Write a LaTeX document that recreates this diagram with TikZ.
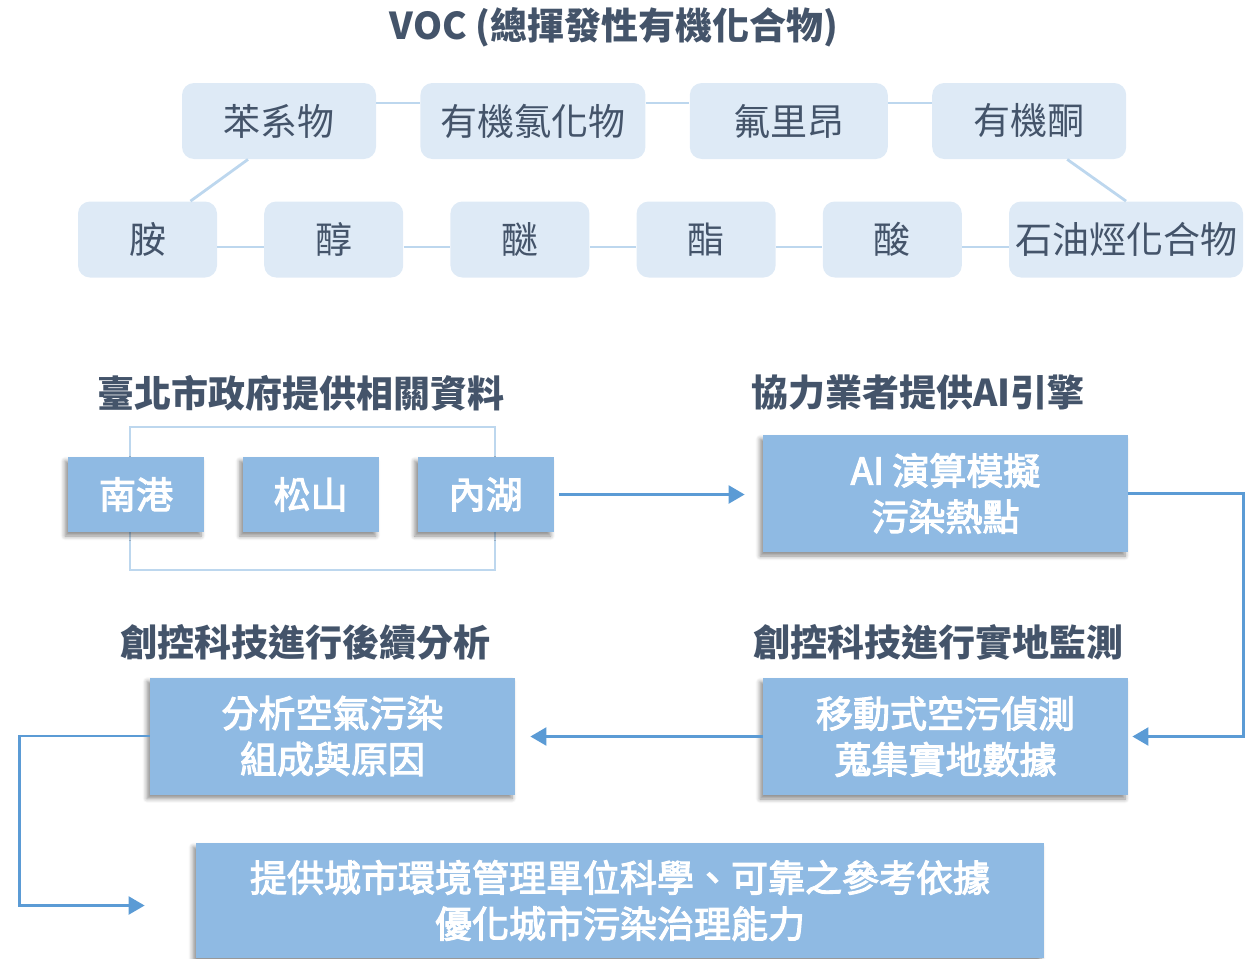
\documentclass[tikz,border=0pt]{standalone}
\usepackage{fontspec}
\setmainfont{Noto Sans CJK TC}
\newfontfamily\boxfont[FakeBold=3]{Noto Sans CJK TC}
\usepackage{tikz}
\usetikzlibrary{arrows.meta, positioning, shadows.blur}
\definecolor{slate}{HTML}{44546A}
\definecolor{paleblue}{HTML}{DEEAF6}
\definecolor{linkblue}{HTML}{BDD7EE}
\definecolor{boxblue}{HTML}{8FBAE3}
\definecolor{arrowblue}{HTML}{5B9BD5}
\tikzset{
    vocbox/.style={fill=paleblue, rounded corners=6pt, text=slate, font=\fontsize{18.5}{23}\selectfont, minimum height=38pt, minimum width=97pt, inner xsep=10pt},
    vocsmall/.style={vocbox, minimum width=69.5pt, inner xsep=3pt},
    link/.style={draw=linkblue, line width=1.4pt},
    heading/.style={text=slate, font=\bfseries\fontsize{18.5}{23}\selectfont},
    stepbox/.style={fill=boxblue, text=white, align=center, font=\boxfont\fontsize{18.5}{23}\selectfont, blur shadow={shadow xshift=-1.5pt, shadow yshift=-2pt, shadow blur steps=6, shadow opacity=45}},
    sitebox/.style={stepbox, minimum width=68pt, minimum height=37.5pt},
    arr/.style={-{Triangle[length=8pt, width=9pt]}, draw=arrowblue, line width=1.2pt}
}

\begin{document}
\begin{tikzpicture}[
          x=0.5pt, y=-0.5pt,
          node distance=21.8pt,
          wide/.style={stepbox, minimum width=182.5pt, minimum height=58.5pt}
        ]
        \useasboundingbox (0,0) rectangle (1256,958);
        \node[heading] (title) at (614,27) {VOC (總揮發性有機化合物)};

        \node[vocbox] (benzene) at (279,121) {苯系物};
        \node[vocbox, right=of benzene] (chloride) {有機氯化物};
        \node[vocbox, right=of chloride, minimum width=99pt] (freon) {氟里昂};
        \node[vocbox, right=of freon] (ketone) {有機酮};

        \node[vocsmall] (amine) at (147.5,239.5) {胺};
        \node[vocsmall, right=23.2pt of amine] (alcohol) {醇};
        \node[vocsmall, right=23.2pt of alcohol] (ether) {醚};
        \node[vocsmall, right=23.2pt of ether] (ester) {酯};
        \node[vocsmall, right=23.2pt of ester] (acid) {酸};
        \node[vocsmall, right=23.2pt of acid] (petro) {石油烴化合物};

        \foreach \a/\b in {benzene/chloride, chloride/freon, freon/ketone}
            \draw[link] ([yshift=9pt]\a.east) -- ([yshift=9pt]\b.west);
        \foreach \a/\b in {amine/alcohol, alcohol/ether, ether/ester, ester/acid, acid/petro}
            \draw[link] ([yshift=-3.75pt]\a.east) -- ([yshift=-3.75pt]\b.west);
        \draw[link] ([xshift=-15.5pt]benzene.south) -- ([xshift=21.5pt]amine.north);
        \draw[link] ([xshift=19pt]ketone.south) -- (petro.north);

        \node[heading] (cityhead) at (301,393) {臺北市政府提供相關資料};
        \node[draw=linkblue, line width=1.3pt, minimum width=182.5pt, minimum height=71.5pt] (siteframe) at (312.5,498.5) {};
        \node[sitebox] (nangang) at (136,494.5) {南港};
        \node[sitebox, right=19pt of nangang] (songshan) {松山};
        \node[sitebox, right=19pt of songshan] (neihu) {內湖};

        \node[heading] (vendorhead) at (918,393) {協力業者提供AI引擎};
        \node[wide] (aimodel) at (945.5,493.5) {AI 演算模擬\\污染熱點};
        \draw[arr, shorten <=2.5pt, shorten >=9pt] (neihu.east) -- (neihu.east -| aimodel.west);

        \node[heading] (monitorhead) at (938,642) {創控科技進行實地監測};
        \node[wide] (monitor) at (945.5,736.5) {移動式空污偵測\\蒐集實地數據};
        \draw[arr, shorten >=2pt] (aimodel.east) -- ++(115,0) |- (monitor.east);

        \node[heading] (analysishead) at (305,642) {創控科技進行後續分析};
        \node[wide] (analysis) at (332.5,736) {分析空氣污染\\組成與原因};
        \draw[arr, shorten >=7.5pt] (monitor.west) -- (monitor.west -| analysis.east);

        \node[stepbox, minimum width=424pt, minimum height=57.5pt] (advice) at (620,900.5) {提供城市環境管理單位科學、可靠之參考依據\\優化城市污染治理能力};
        \draw[arr] (analysis.west) -- ++(-130,0) |- ([xshift=-25.5pt, yshift=-2.5pt]advice.west);
      \end{tikzpicture}
\end{document}
